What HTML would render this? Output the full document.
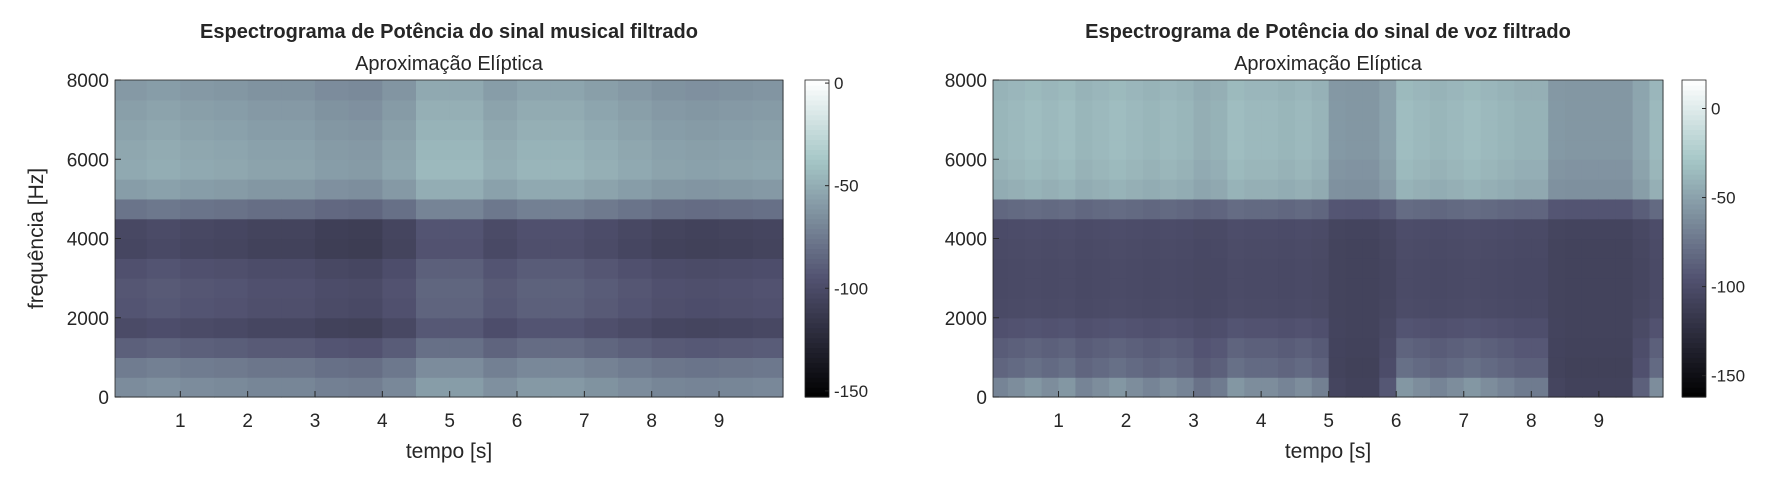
<!DOCTYPE html>
<html><head><meta charset="utf-8">
<style>
body{margin:0;background:#fff;width:1772px;height:472px;overflow:hidden;font-family:"Liberation Sans",sans-serif}
svg text{font-family:"Liberation Sans",sans-serif;fill:#262626}
</style></head>
<body>
<svg id="fig" width="1772" height="472" xmlns="http://www.w3.org/2000/svg"></svg>
<script>
// ----- data -----
const timeRange = [0.03, 9.95];
const freqBandEdges = [0,500,1000,1500,2000,2500,3000,3500,4000,4500,5000,5500,6000,6500,7000,7500,8000];
const xTicks = [1,2,3,4,5,6,7,8,9];
const yTicks = [0,2000,4000,6000,8000];
// musical signal: band levels (dB) and time offsets (per 0.5 s)
const musicBandLevels = [-64,-72,-86,-98,-92,-91,-94,-101,-100,-76,-56,-50,-51,-53,-55,-58];
const musicTimeOffsets = [-2,0,-2,-3,-5,-5,-8,-9,-4,6,6,0,4,4,1,-2,-5,-6,-5,-4];
const musicCbarTicks = [0,-50,-100,-150];
const musicClim = [-153, 1.5];
// voice signal: voiced / silent band profiles and activity (per 0.25 s)
const voiceVoicedLevels = [-56,-78,-85,-94,-100,-101,-101,-100,-99,-80,-40,-36,-34,-34,-34,-36];
const voiceSilentLevels = [-108,-109,-108,-107,-107,-107,-107,-107,-106,-94,-60,-58,-56,-56,-56,-56];
const voiceActivity = [0.8,0.9,1,0.9,1,0.8,0.9,1,0.9,0.8,0.9,0.8,0.6,0.7,1,0.9,0.9,0.8,0.9,0.75,0.05,0,0,0.3,1,0.9,0.8,0.9,1,0.9,0.8,0.7,0.7,0.05,0,0,0,0,0.4,0.9];
const voiceCbarTicks = [0,-50,-100,-150];
const voiceClim = [-162, 16];

const NS = "http://www.w3.org/2000/svg";
const svg = document.getElementById('fig');
function el(tag, attrs, parent){const e=document.createElementNS(NS,tag);for(const k in attrs)e.setAttribute(k,attrs[k]);(parent||svg).appendChild(e);return e;}
function bone(v){
  const st=[[0,0,0,0],[0.375,0.32,0.32,0.44],[0.75,0.65,0.78,0.78],[1,1,1,1]];
  v=Math.max(0,Math.min(1,v));
  for(let i=1;i<st.length;i++){if(v<=st[i][0]){const a=st[i-1],b=st[i],f=(v-a[0])/(b[0]-a[0]);
    return `rgb(${Math.round(255*(a[1]+f*(b[1]-a[1])))},${Math.round(255*(a[2]+f*(b[2]-a[2])))},${Math.round(255*(a[3]+f*(b[3]-a[3])))})`;}}
  return 'rgb(255,255,255)';
}
function drawPanel(o){
  const g=el('g',{});
  
  
  const xs=t=>o.x0+(t-timeRange[0])/(timeRange[1]-timeRange[0])*(o.x1-o.x0);
  const ys=f=>o.y1-(f/8000)*(o.y1-o.y0);
  const cs=v=>bone((v-o.clim[0])/(o.clim[1]-o.clim[0]));
  const n=o.cols;
  const dt=10/n;
  const cells=el('g',{},g);
  
  
  for(let c=0;c<n;c++){
    const ta=Math.max(c*dt,timeRange[0]), tb=Math.min((c+1)*dt,timeRange[1]);
    if(tb<=ta) continue;
    for(let b=0;b<freqBandEdges.length-1;b++){
      const v=o.val(c,b);
      const r=el('rect',{x:xs(ta),y:ys(freqBandEdges[b+1]),width:xs(tb)-xs(ta)+0.6,height:ys(freqBandEdges[b])-ys(freqBandEdges[b+1])+0.6,fill:cs(v)},cells);
      
      
    }
  }
  el('rect',{x:o.x0,y:o.y0,width:o.x1-o.x0,height:o.y1-o.y0,fill:'none',stroke:'#262626','stroke-width':0.8},g);
  xTicks.forEach(t=>{
    el('line',{x1:xs(t),x2:xs(t),y1:o.y1,y2:o.y1-6,stroke:'#262626'},g);
    const tx=el('text',{x:xs(t),y:o.y1+30,'text-anchor':'middle','font-size':19},g);tx.textContent=t;
    
    
  });
  yTicks.forEach(f=>{
    el('line',{x1:o.x0,x2:o.x0+6,y1:ys(f),y2:ys(f),stroke:'#262626'},g);
    const tx=el('text',{x:o.x0-6,y:ys(f)+7,'text-anchor':'end','font-size':19},g);tx.textContent=f;
    
    
  });
  const mid=(o.x0+o.x1)/2;
  const t1=el('text',{x:mid,y:38,'text-anchor':'middle','font-size':20,'font-weight':'bold'},g);t1.textContent=o.title;
  
  
  const t2=el('text',{x:mid,y:70,'text-anchor':'middle','font-size':20},g);t2.textContent='Aproximação Elíptica';
  
  
  const xl=el('text',{x:mid,y:458,'text-anchor':'middle','font-size':21},g);xl.textContent='tempo [s]';
  
  
  if(o.ylabel){
    const yl=el('text',{x:0,y:0,'text-anchor':'middle','font-size':21,transform:`translate(${o.x0-72},${(o.y0+o.y1)/2}) rotate(-90)`},g);yl.textContent=o.ylabel;
    
    
  }
  const cb=el('g',{},g);
  
  
  const cbs=v=>o.y1-(v-o.clim[0])/(o.clim[1]-o.clim[0])*(o.y1-o.y0);
  const steps=64;
  for(let i=0;i<steps;i++){
    const va=o.clim[0]+i*(o.clim[1]-o.clim[0])/steps, vb=o.clim[0]+(i+1)*(o.clim[1]-o.clim[0])/steps;
    el('rect',{x:o.cbx,y:cbs(vb),width:o.cbw,height:cbs(va)-cbs(vb)+0.6,fill:bone((i+0.5)/steps)},cb);
  }
  el('rect',{x:o.cbx,y:o.y0,width:o.cbw,height:o.y1-o.y0,fill:'none',stroke:'#262626','stroke-width':0.8},cb);
  o.cticks.forEach(v=>{
    el('line',{x1:o.cbx+o.cbw,x2:o.cbx+o.cbw-4,y1:cbs(v),y2:cbs(v),stroke:'#262626'},cb);
    const tx=el('text',{x:o.cbx+o.cbw+5,y:cbs(v)+6,'font-size':17},cb);tx.textContent=v;
    
    
  });
}
drawPanel({name:'music-spectrogram-panel',x0:115,x1:783,y0:80,y1:397,cols:musicTimeOffsets.length,
  val:(c,b)=>musicBandLevels[b]+musicTimeOffsets[c],clim:musicClim,cticks:musicCbarTicks,cbx:805,cbw:24,
  title:'Espectrograma de Potência do sinal musical filtrado',ylabel:'frequência [Hz]'});
drawPanel({name:'voice-spectrogram-panel',x0:993,x1:1663,y0:80,y1:397,cols:voiceActivity.length,
  val:(c,b)=>voiceSilentLevels[b]+voiceActivity[c]*(voiceVoicedLevels[b]-voiceSilentLevels[b]),clim:voiceClim,cticks:voiceCbarTicks,cbx:1682,cbw:24,
  title:'Espectrograma de Potência do sinal de voz filtrado'});
</script>
</body></html>
